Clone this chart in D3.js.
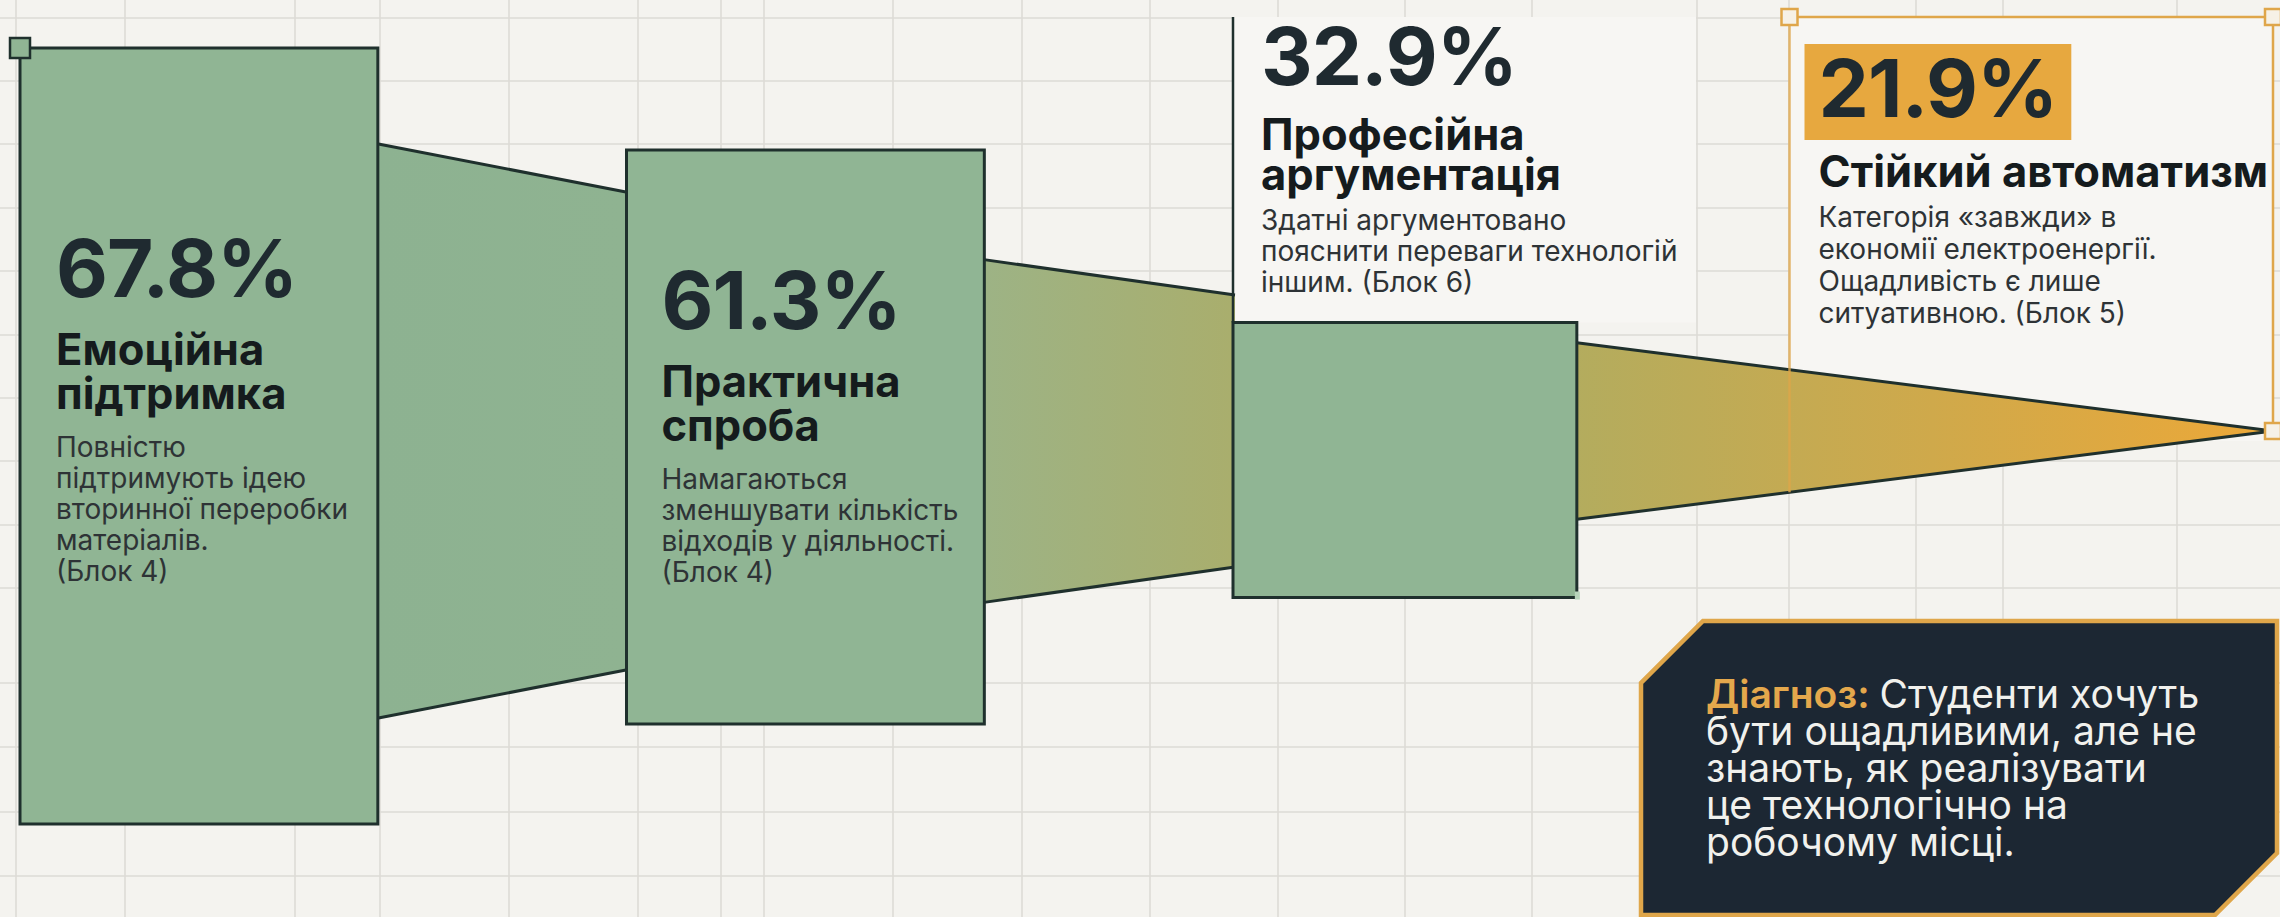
<!DOCTYPE html>
<html>
<head>
<meta charset="utf-8">
<script src="https://cdn.jsdelivr.net/npm/d3@7"></script>
<style>
  body { margin: 0; background: #f4f3ef; }
  svg { display: block; }
</style>
</head>
<body>
<svg id="chart" width="2280" height="917"></svg>
<script>
// --- data ---
var stages = ["Емоційна підтримка", "Практична спроба", "Професійна аргументація", "Стійкий автоматизм"];
var shares = [67.8, 61.3, 32.9, 21.9];
var titleLines = [
  ["Емоційна", "підтримка"],
  ["Практична", "спроба"],
  ["Професійна", "аргументація"],
  ["Стійкий автоматизм"]
];
var notes = [
  ["Повністю", "підтримують ідею", "вторинної переробки", "матеріалів.", "(Блок 4)"],
  ["Намагаються", "зменшувати кількість", "відходів у діяльності.", "(Блок 4)"],
  ["Здатні аргументовано", "пояснити переваги технологій", "іншим. (Блок 6)"],
  ["Категорія «завжди» в", "економії електроенергії.", "Ощадливість є лише", "ситуативною. (Блок 5)"]
];
var diagnosisLead = "Діагноз:";
var diagnosisLines = ["Студенти хочуть", "бути ощадливими, але не", "знають, як реалізувати", "це технологічно на", "робочому місці."];

// --- layout ---
var W = 2280, H = 917;
var axisY = 431;          // centre line of the connectors
var boxDrop = [5, 6, 29]; // boxes sit a little under the axis
var necks = [[0.741, 0.831], [0.598, 0.989], [0.644, 0]]; // taper of each connector
var tipX = W - 7;
var font = "Inter, 'Liberation Sans', Arial, sans-serif";
var dark = "#1f302d";

var svg = d3.select("#chart");

var x = d3.scalePoint().domain(stages).range([20, 1839.5]);
var boxW = x.step() * 0.59;
function boxWidth(i) { return i < 2 ? boxW : boxW - 14; }
// visual height of each stage (non-linear, as in the original)
var h = d3.scaleLinear().domain(shares).range([776, 574, 275, 0]);

function cy(i) { return axisY + boxDrop[i]; }
function boxTop(i) { return cy(i) - h(shares[i]) / 2; }

// background + grid
svg.append("rect").attr("width", W).attr("height", H).attr("fill", "#f4f3ef");
var gridX = [16, 125, 295, 380, 509, 638, 721, 764, 893, 1022, 1150, 1278, 1405, 1532, 1697, 1789, 1916, 2003, 2177];
var gridY = [18, 81, 144, 208, 271, 335, 398, 461, 525, 588, 683, 747, 812, 876];
svg.append("g").selectAll("line").data(gridX).enter().append("line")
  .attr("x1", d => d).attr("x2", d => d).attr("y1", 0).attr("y2", H)
  .attr("stroke", "#dddbd6").attr("stroke-width", 1.6);
svg.append("g").selectAll("line").data(gridY).enter().append("line")
  .attr("y1", d => d).attr("y2", d => d).attr("x1", 0).attr("x2", W)
  .attr("stroke", "#dddbd6").attr("stroke-width", 1.6);

// light panels behind the two upper labels
var frameLeft = x(stages[3]) - 50;
svg.append("rect")
  .attr("x", x(stages[2])).attr("y", 17)
  .attr("width", 463).attr("height", boxTop(2) - 17)
  .attr("fill", "#f7f6f3");
svg.append("rect")
  .attr("x", frameLeft).attr("y", 17)
  .attr("width", tipX - frameLeft).attr("height", axisY + 10 - 17)
  .attr("fill", "#f7f6f3");

// gradient for the connectors
var defs = svg.append("defs");
var grad = defs.append("linearGradient").attr("id", "flow")
  .attr("gradientUnits", "userSpaceOnUse")
  .attr("x1", x(stages[0]) + boxW).attr("x2", tipX).attr("y1", 0).attr("y2", 0);
[[0, "#8db291"], [0.13, "#8fb391"], [0.32, "#9db385"], [0.45, "#a9ae6d"],
 [0.63, "#b3ac5e"], [0.82, "#cfa94b"], [1, "#eca838"]].forEach(function (s) {
  grad.append("stop").attr("offset", s[0]).attr("stop-color", s[1]);
});

// connectors
var links = d3.range(3).map(function (i) {
  var x0 = x(stages[i]) + boxWidth(i) - 2;
  var x1 = i < 2 ? x(stages[i + 1]) + 2 : tipX;
  var hl = h(shares[i]) * necks[i][0];
  var hr = h(shares[i + 1]) * necks[i][1];
  return { x0: x0, x1: x1, t0: axisY - hl / 2, t1: axisY - hr / 2, b0: axisY + hl / 2, b1: axisY + hr / 2 };
});
var lg = svg.append("g");
lg.selectAll("polygon").data(links).enter().append("polygon")
  .attr("points", d => [[d.x0, d.t0], [d.x1, d.t1], [d.x1, d.b1], [d.x0, d.b0]].join(" "))
  .attr("fill", "url(#flow)");
lg.selectAll("line.top").data(links).enter().append("line").attr("class", "top")
  .attr("x1", d => d.x0).attr("y1", d => d.t0).attr("x2", d => d.x1).attr("y2", d => d.t1)
  .attr("stroke", dark).attr("stroke-width", 3);
lg.selectAll("line.bot").data(links).enter().append("line").attr("class", "bot")
  .attr("x1", d => d.x0).attr("y1", d => d.b0).attr("x2", d => d.x1).attr("y2", d => d.b1)
  .attr("stroke", dark).attr("stroke-width", 3);

// stage boxes (first three stages)
svg.append("g").selectAll("rect").data(shares.slice(0, 3)).enter().append("rect")
  .attr("x", (d, i) => x(stages[i]))
  .attr("y", (d, i) => boxTop(i))
  .attr("width", (d, i) => boxWidth(i))
  .attr("height", d => h(d))
  .attr("fill", "#90b594")
  .attr("stroke", dark).attr("stroke-width", 3);

// handle on first box, small mark on third
svg.append("rect").attr("x", x(stages[0]) - 10).attr("y", boxTop(0) - 10)
  .attr("width", 20).attr("height", 20)
  .attr("fill", "#90b594").attr("stroke", dark).attr("stroke-width", 2.5);
svg.append("rect").attr("x", x(stages[2]) + boxWidth(2) - 2).attr("y", boxTop(2) + h(shares[2]) - 6)
  .attr("width", 5).attr("height", 8).attr("fill", "#b8d4bb");

// thin line on the left of the third label
svg.append("line")
  .attr("x1", x(stages[2])).attr("x2", x(stages[2]))
  .attr("y1", 17).attr("y2", boxTop(2))
  .attr("stroke", dark).attr("stroke-width", 2.5);

// orange selection frame around the last stage
var l3 = links[2];
var botAt = d3.scaleLinear().domain([l3.x0, l3.x1]).range([l3.b0, l3.b1]);
var orange = "#dfa64a";
var fr = svg.append("g").attr("stroke", orange).attr("stroke-width", 2.5).attr("fill", "none");
fr.append("line").attr("x1", frameLeft).attr("x2", tipX).attr("y1", 17).attr("y2", 17);
fr.append("line").attr("x1", frameLeft).attr("x2", frameLeft).attr("y1", 17).attr("y2", botAt(frameLeft))
  .attr("stroke-opacity", 0.8);
fr.append("line").attr("x1", tipX).attr("x2", tipX).attr("y1", 17).attr("y2", axisY);
[[frameLeft, 17], [tipX, 17], [tipX, axisY]].forEach(function (p) {
  fr.append("rect").attr("x", p[0] - 8).attr("y", p[1] - 8).attr("width", 16).attr("height", 16)
    .attr("fill", "#f6f1e6");
});

// --- labels ---
var labelPos = [
  { x: x(stages[0]) + 36, p: cy(0) + 146 - 285, gapT: 68, lead: 44, gapN: 48, note: 31 },
  { x: x(stages[1]) + 35, p: cy(1) + 146 - 254, gapT: 68, lead: 44, gapN: 48, note: 31 },
  { x: x(stages[2]) + 28, p: 85, gapT: 65, lead: 40, gapN: 40, note: 31 },
  { x: frameLeft + 29, p: 117, gapT: 70, lead: 40, gapN: 40, note: 32 }
];

var labels = svg.append("g").attr("font-family", font);
shares.forEach(function (v, i) {
  var L = labelPos[i];
  var g = labels.append("g");
  var pct = g.append("text").attr("x", L.x).attr("y", L.p)
    .attr("font-size", 80).attr("font-weight", 700).attr("fill", "#1f2a30")
    .attr("letter-spacing", -1)
    .text(d3.format(".1f")(v) + "%");
  if (i === 3) {
    var bb = pct.node().getBBox();
    g.insert("rect", "text")
      .attr("x", bb.x - 14).attr("y", 44)
      .attr("width", bb.width + 28).attr("height", 96)
      .attr("fill", "#e7a83f");
  }
  titleLines[i].forEach(function (t, k) {
    g.append("text").attr("x", L.x).attr("y", L.p + L.gapT + k * L.lead)
      .attr("font-size", 43.5).attr("font-weight", 700).attr("fill", "#151b1d")
      .text(t);
  });
  var n0 = L.p + L.gapT + (titleLines[i].length - 1) * L.lead + L.gapN;
  notes[i].forEach(function (t, k) {
    g.append("text").attr("x", L.x).attr("y", n0 + k * L.note)
      .attr("font-size", 28).attr("font-weight", 400).attr("fill", "#2e3336")
      .text(t);
  });
});

// --- diagnosis box ---
var dx0 = 1641, dy0 = 621, dx1 = 2277, dy1 = 915, cut = 62;
svg.append("polygon")
  .attr("points", [[dx0 + cut, dy0], [dx1, dy0], [dx1, dy1 - cut], [dx1 - cut, dy1], [dx0, dy1], [dx0, dy0 + cut]].join(" "))
  .attr("fill", "#1c2733").attr("stroke", orange).attr("stroke-width", 4.5);

var dg = svg.append("g").attr("font-family", font).attr("font-size", 39);
diagnosisLines.forEach(function (t, k) {
  var tx = dg.append("text").attr("x", 1706).attr("y", 708 + k * 37).attr("fill", "#f1f1ed");
  if (k === 0) {
    tx.append("tspan").attr("fill", "#e4a84c").attr("font-weight", 600).text(diagnosisLead + " ");
  }
  tx.append("tspan").text(t);
});
</script>
</body>
</html>
